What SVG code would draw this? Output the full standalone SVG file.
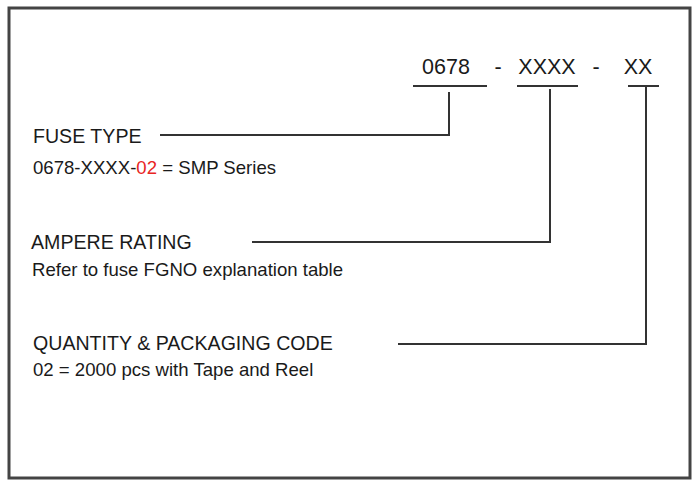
<svg xmlns="http://www.w3.org/2000/svg" width="696" height="483" viewBox="0 0 696 483">
<style>
.t{font-family:"Liberation Sans",Arial,sans-serif;fill:#1a1a1a}
.h{font-size:19.6px}
.s{font-size:18.6px}
.c{font-size:21.5px}
.ln{stroke:#333;stroke-width:2;fill:none}
</style>
<rect x="9" y="8" width="681" height="470" fill="#fff" stroke="#444" stroke-width="3"/>
<g id="code">
<text class="t c" x="446" y="74" text-anchor="middle">0678</text>
<text class="t c" x="498" y="74" text-anchor="middle">-</text>
<text class="t c" x="547" y="74" text-anchor="middle">XXXX</text>
<text class="t c" x="596" y="74" text-anchor="middle">-</text>
<text class="t c" x="638" y="74" text-anchor="middle">XX</text>
</g>
<g id="fuse-type">
<text class="t h" x="33" y="143">FUSE TYPE</text>
<text class="t s" x="33" y="174">0678-XXXX-<tspan fill="#e8251f">02</tspan> = SMP Series</text>
</g>
<g id="ampere-rating">
<text class="t h" x="31" y="249">AMPERE RATING</text>
<text class="t s" x="32" y="276">Refer to fuse FGNO explanation table</text>
</g>
<g id="quantity">
<text class="t h" x="33" y="350">QUANTITY &amp; PACKAGING CODE</text>
<text class="t s" x="33" y="376">02 = 2000 pcs with Tape and Reel</text>
</g>
<g id="connectors">
<line class="ln" x1="413" y1="86" x2="487" y2="86"/>
<polyline class="ln" points="449,92 449,135 160,135"/>
<line class="ln" x1="517" y1="86" x2="578" y2="86"/>
<polyline class="ln" points="550,89 550,242 252,242"/>
<line class="ln" x1="628" y1="86" x2="659" y2="86"/>
<polyline class="ln" points="646,86 646,344 398,344"/>
</g>
</svg>
